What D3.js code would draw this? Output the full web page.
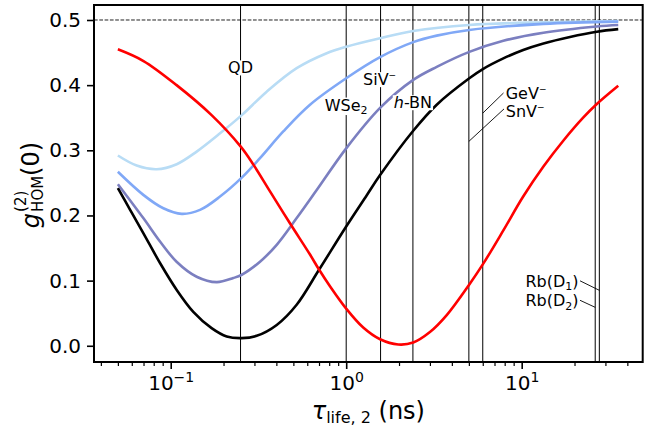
<!DOCTYPE html>
<html><head><meta charset="utf-8">
<script src="https://cdn.jsdelivr.net/npm/d3@7"></script>
<style>
html,body{margin:0;padding:0;background:#fff;}
svg{display:block;font-family:"DejaVu Sans",sans-serif;}
</style></head><body>
<svg id="chart" width="654" height="425"></svg>
<script>
// ---------- data ----------
const lightTau = [0.05,0.064,0.0832,0.1082,0.1406,0.191,0.254,0.3524,0.5223,0.774,1.0,1.56,2.41,5.03,13.3,35.5];
const lightG   = [0.292,0.2766,0.271,0.2787,0.298,0.326,0.354,0.390,0.426,0.449,0.459,0.472,0.483,0.4923,0.4965,0.4985];

const midTau = [0.05,0.0698,0.0908,0.1155,0.1469,0.191,0.254,0.3227,0.438,0.622,1.0,1.56,2.41,3.28,5.03,13.3,35.5];
const midG   = [0.267,0.2316,0.211,0.2025,0.2086,0.229,0.258,0.288,0.329,0.370,0.4106,0.443,0.466,0.476,0.4847,0.494,0.4975];

const purpleTau = [0.05,0.0698,0.0869,0.108,0.1406,0.1829,0.2274,0.254,0.3227,0.4018,0.5223,0.679,1.0,1.56,2.41,3.28,5.03,7.86,13.3,26.8,35.5];
const purpleG   = [0.248,0.196,0.160,0.129,0.106,0.0977,0.104,0.109,0.129,0.155,0.196,0.239,0.303,0.365,0.408,0.428,0.451,0.468,0.4805,0.490,0.4923];

const blackTau = [0.05,0.0586,0.0698,0.0869,0.108,0.1345,0.171,0.2085,0.254,0.309,0.402,0.522,0.70,1.0,1.31,1.56,2.41,3.28,5.03,6.04,7.86,10.2,13.3,18.85,26.8,35.5];
const blackG   = [0.242,0.209,0.173,0.127,0.086,0.052,0.027,0.0143,0.0118,0.0153,0.032,0.063,0.1166,0.183,0.231,0.262,0.330,0.370,0.4105,0.425,0.441,0.454,0.464,0.474,0.482,0.486];

const redTau = [0.05,0.07,0.108,0.171,0.25,0.296,0.368,0.478,0.622,0.70,0.81,1.0,1.25,1.56,1.98,2.41,3.0,3.74,5.03,6.04,7.86,10.2,13.3,17.3,22.4,26.8,35.5];
const redG   = [0.455,0.437,0.400,0.354,0.306,0.278,0.237,0.188,0.140,0.117,0.091,0.057,0.028,0.010,0.002,0.005,0.021,0.047,0.094,0.126,0.177,0.229,0.275,0.315,0.350,0.371,0.399];

const seriesColors = ["#b8dcf5","#80a8f6","#7b7fc0","#000000","#ff0000"];

// emitter lifetimes (vertical lines)
const emitterNames = ["QD","WSe2","SiV-","h-BN","SnV-","GeV-","Rb(D2)","Rb(D1)"];
const emitterTau   = [0.25,1.0,1.57,2.4,5.0,6.0,26.24,27.7];

// ticks
const yTicks = [0,0.1,0.2,0.3,0.4,0.5];
const yTickLabels = ["0.0","0.1","0.2","0.3","0.4","0.5"];
const xMajorTicks = [0.1,1,10];
const xMajorExp = ["\u22121","0","1"];
const xMinorTicks = [0.04,0.05,0.06,0.07,0.08,0.09,0.2,0.3,0.4,0.5,0.6,0.7,0.8,0.9,2,3,4,5,6,7,8,9,20,30,40];

// annotation labels: parts, tau, g (data coords), anchor, white background
const labels = [
  {parts:[{t:"QD"}], tau:0.25, g:0.418, anchor:"middle", bg:true},
  {parts:[{t:"WSe"},{t:"2",sub:true}], tau:1.0, g:0.361, anchor:"middle", bg:true},
  {parts:[{t:"SiV"},{t:"\u2212",sup:true}], tau:1.55, g:0.400, anchor:"middle", bg:true},
  {parts:[{t:"h",it:true},{t:"-BN"}], tau:2.4, g:0.3646, anchor:"middle", bg:true},
  {parts:[{t:"GeV"},{t:"\u2212",sup:true}], tau:8.11, g:0.3784, anchor:"start", bg:false},
  {parts:[{t:"SnV"},{t:"\u2212",sup:true}], tau:8.11, g:0.3517, anchor:"start", bg:false},
  {parts:[{t:"Rb(D"},{t:"1",sub:true},{t:")",after:true}], tau:10.5, g:0.0905, anchor:"start", bg:false},
  {parts:[{t:"Rb(D"},{t:"2",sub:true},{t:")",after:true}], tau:10.5, g:0.0606, anchor:"start", bg:false}
];
// leader lines: from (tau1,g1) to (tau2,g2)
const leaders = [
  {tau1:7.88, g1:0.388, tau2:6.0, g2:0.357},
  {tau1:7.93, g1:0.3635, tau2:5.0, g2:0.3137},
  {tau1:21.5, g1:0.0997, tau2:27.7, g2:0.0851},
  {tau1:21.5, g1:0.0698, tau2:26.24, g2:0.059}
];

// ---------- drawing ----------
const svg = d3.select("#chart");
const L=94, R=642.7, T=5, B=362;
const x = d3.scaleLog().domain([0.03655, 48.93]).range([L, R]);
const y = d3.scaleLinear().domain([-0.0249, 0.523]).range([B, T]);

// dashed 0.5 line
svg.append("line").attr("x1",L).attr("x2",R).attr("y1",y(0.5)).attr("y2",y(0.5))
  .attr("stroke","#222").attr("stroke-width",1).attr("stroke-dasharray","3.7,1.6");

// vertical emitter lines
svg.append("g").selectAll("line").data(emitterTau).join("line")
  .attr("x1",d=>x(d)).attr("x2",d=>x(d)).attr("y1",T).attr("y2",B)
  .attr("stroke","#000").attr("stroke-width",1);

// curves
const seriesList = [
  {tau:lightTau,g:lightG},{tau:midTau,g:midG},{tau:purpleTau,g:purpleG},
  {tau:blackTau,g:blackG},{tau:redTau,g:redG}
];
const line = d3.line().x(d=>x(d[0])).y(d=>y(d[1])).curve(d3.curveCatmullRom.alpha(0.5));
seriesList.forEach((s,i)=>{
  const pts = s.tau.map((t,j)=>[t,s.g[j]]);
  svg.append("path").datum(pts).attr("d",line).attr("fill","none")
    .attr("stroke",seriesColors[i]).attr("stroke-width",2.6).attr("stroke-linejoin","round");
});

// leader lines
svg.append("g").selectAll("line").data(leaders).join("line")
  .attr("x1",d=>x(d.tau1)).attr("y1",d=>y(d.g1)).attr("x2",d=>x(d.tau2)).attr("y2",d=>y(d.g2))
  .attr("stroke","#000").attr("stroke-width",0.9);

// labels
labels.forEach(lb=>{
  const g = svg.append("g");
  const txt = g.append("text").attr("x",x(lb.tau)).attr("y",y(lb.g))
    .attr("text-anchor",lb.anchor).attr("font-size","16px").attr("fill","#000");
  let shift=0;
  lb.parts.forEach(p=>{
    const ts = txt.append("tspan").text(p.t);
    if(p.it) ts.attr("font-style","italic");
    if(p.sub){ ts.attr("font-size","11px").attr("dy",3.5-shift); shift=3.5; }
    else if(p.sup){ ts.attr("font-size","9px").attr("dy",-7-shift); shift=-7; }
    else if(shift!==0){ ts.attr("dy",-shift); shift=0; }
  });
  if(lb.bg){
    const bb = txt.node().getBBox();
    g.insert("rect","text").attr("x",bb.x-1).attr("y",bb.y+2).attr("width",bb.width+2).attr("height",bb.height-4)
      .attr("fill","#fff");
  }
});

// axes
const yAxis = svg.append("g").attr("transform",`translate(${L},0)`)
  .call(d3.axisLeft(y).tickValues(yTicks).tickSize(7).tickPadding(6).tickFormat((d,i)=>yTickLabels[i]));
yAxis.select(".domain").remove();
yAxis.selectAll(".tick line").attr("stroke-width",1.6);
yAxis.selectAll(".tick text").attr("font-size","20px").attr("font-family","DejaVu Sans").attr("fill","#000");

const xMinor = svg.append("g").attr("transform",`translate(0,${B})`)
  .call(d3.axisBottom(x).tickValues(xMinorTicks).tickSize(4).tickFormat(""));
xMinor.select(".domain").remove();
xMinor.selectAll(".tick line").attr("stroke-width",1.2);

const xMajor = svg.append("g").attr("transform",`translate(0,${B})`)
  .call(d3.axisBottom(x).tickValues(xMajorTicks).tickSize(7).tickFormat(""));
xMajor.select(".domain").remove();
xMajor.selectAll(".tick line").attr("stroke-width",1.6);
xMajor.selectAll(".tick text").remove();
xMajor.selectAll(".tick").each(function(d,i){
  const t = d3.select(this).append("text").attr("y",28).attr("text-anchor","middle")
    .attr("font-size","20px").attr("font-family","DejaVu Sans").attr("fill","#000");
  t.append("tspan").text("10");
  t.append("tspan").attr("font-size","14px").attr("dy",-8).text(xMajorExp[i]);
});

// frame
svg.append("rect").attr("x",L).attr("y",T).attr("width",R-L).attr("height",B-T)
  .attr("fill","none").attr("stroke","#000").attr("stroke-width",2);

// x label
const xl = svg.append("text").attr("x",(L+R)/2).attr("y",418.5).attr("text-anchor","middle")
  .attr("font-size","24px").attr("fill","#000");
xl.append("tspan").attr("font-style","italic").text("\u03c4");
xl.append("tspan").attr("font-size","16px").attr("dy",4).text("life, 2");
xl.append("tspan").attr("dy",-4).text(" (ns)");

// y label (rotated group, pieces positioned by measured widths)
const yl = svg.append("g").attr("transform","translate(39,185) rotate(-90)");
const gT = yl.append("text").attr("font-size","24px").attr("font-style","italic").text("g");
const supT = yl.append("text").attr("font-size","15px").text("(2)");
const subT = yl.append("text").attr("font-size","15px").text("HOM");
const zT = yl.append("text").attr("font-size","24px").text("(0)");
const wg = gT.node().getComputedTextLength();
const ws = supT.node().getComputedTextLength();
const wb = subT.node().getComputedTextLength();
const wz = zT.node().getComputedTextLength();
const Wtot = wg + 1 + Math.max(ws,wb) + wz;
const x0 = -Wtot/2;
gT.attr("x",x0).attr("y",0);
supT.attr("x",x0+wg+1).attr("y",-13);
subT.attr("x",x0+wg+1).attr("y",3.5);
zT.attr("x",x0+wg+1+Math.max(ws,wb)).attr("y",0);
</script>
</body></html>
